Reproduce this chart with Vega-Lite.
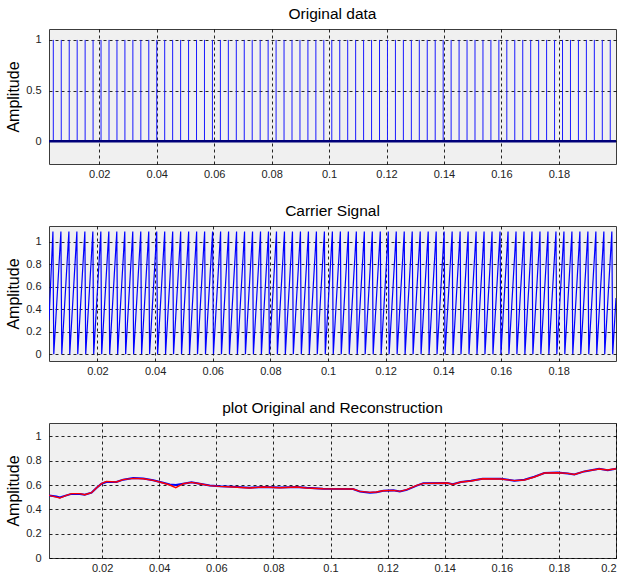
{
  "$schema": "https://vega.github.io/schema/vega-lite/v6.json",
  "padding": {"left": 5, "top": 6, "right": 0, "bottom": 0},
  "spacing": 23,
  "config": {
    "font": "Liberation Sans",
    "view": {"fill": "#f0f0f0", "stroke": "#3c3c3c", "strokeWidth": 1},
    "axis": {"grid": true, "gridColor": "#000000", "gridDash": [3, 3], "gridOpacity": 0.85, "domain": false, "ticks": false, "labelFont": "Liberation Sans", "labelFontSize": 11, "labelColor": "#222222", "titleFont": "Liberation Sans", "titleFontSize": 16, "titleFontWeight": "normal", "titleColor": "#000000", "zindex": 1},
    "axisX": {"labelPadding": 4},
    "axisY": {"labelPadding": 8, "titlePadding": 4},
    "title": {"fontSize": 15.5, "fontWeight": "normal", "font": "Liberation Sans", "color": "#000000", "offset": 7}
  },
  "datasets": {
    "stems": [
      {"t":0.004,"v":1},{"t":0.00677,"v":1},{"t":0.00954,"v":1},{"t":0.01231,"v":1},{"t":0.01508,"v":1},{"t":0.01785,"v":1},{"t":0.02062,"v":1},{"t":0.02339,"v":1},{"t":0.02616,"v":1},{"t":0.02893,"v":1},
      {"t":0.0317,"v":1},{"t":0.03447,"v":1},{"t":0.03724,"v":1},{"t":0.04001,"v":1},{"t":0.04278,"v":1},{"t":0.04555,"v":1},{"t":0.04832,"v":1},{"t":0.05109,"v":1},{"t":0.05386,"v":1},{"t":0.05663,"v":1},
      {"t":0.0594,"v":1},{"t":0.06217,"v":1},{"t":0.06494,"v":1},{"t":0.06771,"v":1},{"t":0.07048,"v":1},{"t":0.07325,"v":1},{"t":0.07602,"v":1},{"t":0.07879,"v":1},{"t":0.08156,"v":1},{"t":0.08433,"v":1},
      {"t":0.0871,"v":1},{"t":0.08987,"v":1},{"t":0.09264,"v":1},{"t":0.09541,"v":1},{"t":0.09818,"v":1},{"t":0.10095,"v":1},{"t":0.10372,"v":1},{"t":0.10649,"v":1},{"t":0.10926,"v":1},{"t":0.11203,"v":1},
      {"t":0.1148,"v":1},{"t":0.11757,"v":1},{"t":0.12034,"v":1},{"t":0.12311,"v":1},{"t":0.12588,"v":1},{"t":0.12865,"v":1},{"t":0.13142,"v":1},{"t":0.13419,"v":1},{"t":0.13696,"v":1},{"t":0.13973,"v":1},
      {"t":0.1425,"v":1},{"t":0.14527,"v":1},{"t":0.14804,"v":1},{"t":0.15081,"v":1},{"t":0.15358,"v":1},{"t":0.15635,"v":1},{"t":0.15912,"v":1},{"t":0.16189,"v":1},{"t":0.16466,"v":1},{"t":0.16743,"v":1},
      {"t":0.1702,"v":1},{"t":0.17297,"v":1},{"t":0.17574,"v":1},{"t":0.17851,"v":1},{"t":0.18128,"v":1},{"t":0.18405,"v":1},{"t":0.18682,"v":1},{"t":0.18959,"v":1},{"t":0.19236,"v":1},{"t":0.19513,"v":1},
      {"t":0.1979,"v":1}
    ],
    "carrier": [
      {"t":0.0032,"v":0.3},
      {"t":0.00456,"v":1.09},{"t":0.00486,"v":0},{"t":0.00733,"v":1.09},{"t":0.00763,"v":0},{"t":0.0101,"v":1.09},{"t":0.0104,"v":0},{"t":0.01287,"v":1.09},{"t":0.01317,"v":0},{"t":0.01564,"v":1.09},{"t":0.01594,"v":0},
      {"t":0.01841,"v":1.09},{"t":0.01871,"v":0},{"t":0.02118,"v":1.09},{"t":0.02148,"v":0},{"t":0.02395,"v":1.09},{"t":0.02425,"v":0},{"t":0.02672,"v":1.09},{"t":0.02702,"v":0},{"t":0.02949,"v":1.09},{"t":0.02979,"v":0},
      {"t":0.03226,"v":1.09},{"t":0.03256,"v":0},{"t":0.03503,"v":1.09},{"t":0.03533,"v":0},{"t":0.0378,"v":1.09},{"t":0.0381,"v":0},{"t":0.04057,"v":1.09},{"t":0.04087,"v":0},{"t":0.04334,"v":1.09},{"t":0.04364,"v":0},
      {"t":0.04611,"v":1.09},{"t":0.04641,"v":0},{"t":0.04888,"v":1.09},{"t":0.04918,"v":0},{"t":0.05165,"v":1.09},{"t":0.05195,"v":0},{"t":0.05442,"v":1.09},{"t":0.05472,"v":0},{"t":0.05719,"v":1.09},{"t":0.05749,"v":0},
      {"t":0.05996,"v":1.09},{"t":0.06026,"v":0},{"t":0.06273,"v":1.09},{"t":0.06303,"v":0},{"t":0.0655,"v":1.09},{"t":0.0658,"v":0},{"t":0.06827,"v":1.09},{"t":0.06857,"v":0},{"t":0.07104,"v":1.09},{"t":0.07134,"v":0},
      {"t":0.07381,"v":1.09},{"t":0.07411,"v":0},{"t":0.07658,"v":1.09},{"t":0.07688,"v":0},{"t":0.07935,"v":1.09},{"t":0.07965,"v":0},{"t":0.08212,"v":1.09},{"t":0.08242,"v":0},{"t":0.08489,"v":1.09},{"t":0.08519,"v":0},
      {"t":0.08766,"v":1.09},{"t":0.08796,"v":0},{"t":0.09043,"v":1.09},{"t":0.09073,"v":0},{"t":0.0932,"v":1.09},{"t":0.0935,"v":0},{"t":0.09597,"v":1.09},{"t":0.09627,"v":0},{"t":0.09874,"v":1.09},{"t":0.09904,"v":0},
      {"t":0.10151,"v":1.09},{"t":0.10181,"v":0},{"t":0.10428,"v":1.09},{"t":0.10458,"v":0},{"t":0.10705,"v":1.09},{"t":0.10735,"v":0},{"t":0.10982,"v":1.09},{"t":0.11012,"v":0},{"t":0.11259,"v":1.09},{"t":0.11289,"v":0},
      {"t":0.11536,"v":1.09},{"t":0.11566,"v":0},{"t":0.11813,"v":1.09},{"t":0.11843,"v":0},{"t":0.1209,"v":1.09},{"t":0.1212,"v":0},{"t":0.12367,"v":1.09},{"t":0.12397,"v":0},{"t":0.12644,"v":1.09},{"t":0.12674,"v":0},
      {"t":0.12921,"v":1.09},{"t":0.12951,"v":0},{"t":0.13198,"v":1.09},{"t":0.13228,"v":0},{"t":0.13475,"v":1.09},{"t":0.13505,"v":0},{"t":0.13752,"v":1.09},{"t":0.13782,"v":0},{"t":0.14029,"v":1.09},{"t":0.14059,"v":0},
      {"t":0.14306,"v":1.09},{"t":0.14336,"v":0},{"t":0.14583,"v":1.09},{"t":0.14613,"v":0},{"t":0.1486,"v":1.09},{"t":0.1489,"v":0},{"t":0.15137,"v":1.09},{"t":0.15167,"v":0},{"t":0.15414,"v":1.09},{"t":0.15444,"v":0},
      {"t":0.15691,"v":1.09},{"t":0.15721,"v":0},{"t":0.15968,"v":1.09},{"t":0.15998,"v":0},{"t":0.16245,"v":1.09},{"t":0.16275,"v":0},{"t":0.16522,"v":1.09},{"t":0.16552,"v":0},{"t":0.16799,"v":1.09},{"t":0.16829,"v":0},
      {"t":0.17076,"v":1.09},{"t":0.17106,"v":0},{"t":0.17353,"v":1.09},{"t":0.17383,"v":0},{"t":0.1763,"v":1.09},{"t":0.1766,"v":0},{"t":0.17907,"v":1.09},{"t":0.17937,"v":0},{"t":0.18184,"v":1.09},{"t":0.18214,"v":0},
      {"t":0.18461,"v":1.09},{"t":0.18491,"v":0},{"t":0.18738,"v":1.09},{"t":0.18768,"v":0},{"t":0.19015,"v":1.09},{"t":0.19045,"v":0},{"t":0.19292,"v":1.09},{"t":0.19322,"v":0},{"t":0.19569,"v":1.09},{"t":0.19599,"v":0},
      {"t":0.19846,"v":1.09},{"t":0.19876,"v":0},{"t":0.1999,"v":0.5}
    ],
    "recon": [
      {"s":"orig","t":0.0014,"v":0.515},{"s":"orig","t":0.004,"v":0.505},{"s":"orig","t":0.0052,"v":0.497},{"s":"orig","t":0.0075,"v":0.515},{"s":"orig","t":0.0093,"v":0.527},{"s":"orig","t":0.0122,"v":0.527},{"s":"orig","t":0.0139,"v":0.52},{"s":"orig","t":0.0163,"v":0.537},{"s":"orig","t":0.018,"v":0.576},{"s":"orig","t":0.0198,"v":0.611},
      {"s":"orig","t":0.0215,"v":0.625},{"s":"orig","t":0.025,"v":0.625},{"s":"orig","t":0.0274,"v":0.644},{"s":"orig","t":0.0309,"v":0.657},{"s":"orig","t":0.0344,"v":0.654},{"s":"orig","t":0.0379,"v":0.64},{"s":"orig","t":0.0414,"v":0.619},{"s":"orig","t":0.0437,"v":0.605},{"s":"orig","t":0.0458,"v":0.6},{"s":"orig","t":0.0484,"v":0.611},
      {"s":"orig","t":0.0513,"v":0.622},{"s":"orig","t":0.0542,"v":0.611},{"s":"orig","t":0.0577,"v":0.597},{"s":"orig","t":0.0612,"v":0.589},{"s":"orig","t":0.0659,"v":0.586},{"s":"orig","t":0.0717,"v":0.578},{"s":"orig","t":0.0764,"v":0.584},{"s":"orig","t":0.0823,"v":0.58},{"s":"orig","t":0.0881,"v":0.584},{"s":"orig","t":0.0916,"v":0.577},
      {"s":"orig","t":0.0974,"v":0.57},{"s":"orig","t":0.1079,"v":0.567},{"s":"orig","t":0.1103,"v":0.546},{"s":"orig","t":0.1138,"v":0.537},{"s":"orig","t":0.1161,"v":0.541},{"s":"orig","t":0.1185,"v":0.553},{"s":"orig","t":0.122,"v":0.556},{"s":"orig","t":0.1243,"v":0.546},{"s":"orig","t":0.1267,"v":0.56},{"s":"orig","t":0.1302,"v":0.595},
      {"s":"orig","t":0.1325,"v":0.614},{"s":"orig","t":0.141,"v":0.617},{"s":"orig","t":0.1428,"v":0.607},{"s":"orig","t":0.1457,"v":0.625},{"s":"orig","t":0.1492,"v":0.635},{"s":"orig","t":0.1533,"v":0.652},{"s":"orig","t":0.1597,"v":0.652},{"s":"orig","t":0.1644,"v":0.636},{"s":"orig","t":0.1679,"v":0.643},{"s":"orig","t":0.1714,"v":0.668},
      {"s":"orig","t":0.1749,"v":0.699},{"s":"orig","t":0.1796,"v":0.703},{"s":"orig","t":0.1831,"v":0.694},{"s":"orig","t":0.1854,"v":0.687},{"s":"orig","t":0.1889,"v":0.712},{"s":"orig","t":0.1941,"v":0.734},{"s":"orig","t":0.1971,"v":0.722},{"s":"orig","t":0.2,"v":0.734},
      {"s":"rec","t":0.0014,"v":0.515},{"s":"rec","t":0.004,"v":0.5},{"s":"rec","t":0.0052,"v":0.493},{"s":"rec","t":0.0075,"v":0.515},{"s":"rec","t":0.0093,"v":0.529},{"s":"rec","t":0.0122,"v":0.529},{"s":"rec","t":0.0139,"v":0.52},{"s":"rec","t":0.0163,"v":0.537},{"s":"rec","t":0.018,"v":0.576},{"s":"rec","t":0.0198,"v":0.611},
      {"s":"rec","t":0.0215,"v":0.63},{"s":"rec","t":0.025,"v":0.625},{"s":"rec","t":0.0274,"v":0.644},{"s":"rec","t":0.0309,"v":0.655},{"s":"rec","t":0.0344,"v":0.652},{"s":"rec","t":0.0379,"v":0.638},{"s":"rec","t":0.0414,"v":0.617},{"s":"rec","t":0.0437,"v":0.6},{"s":"rec","t":0.0458,"v":0.578},{"s":"rec","t":0.0484,"v":0.611},
      {"s":"rec","t":0.0513,"v":0.622},{"s":"rec","t":0.0542,"v":0.611},{"s":"rec","t":0.0577,"v":0.595},{"s":"rec","t":0.0612,"v":0.589},{"s":"rec","t":0.0659,"v":0.584},{"s":"rec","t":0.0717,"v":0.576},{"s":"rec","t":0.0764,"v":0.584},{"s":"rec","t":0.0823,"v":0.578},{"s":"rec","t":0.0881,"v":0.584},{"s":"rec","t":0.0916,"v":0.576},
      {"s":"rec","t":0.0974,"v":0.57},{"s":"rec","t":0.1079,"v":0.567},{"s":"rec","t":0.1103,"v":0.548},{"s":"rec","t":0.1138,"v":0.54},{"s":"rec","t":0.1161,"v":0.543},{"s":"rec","t":0.1185,"v":0.553},{"s":"rec","t":0.122,"v":0.556},{"s":"rec","t":0.1243,"v":0.548},{"s":"rec","t":0.1267,"v":0.562},{"s":"rec","t":0.1302,"v":0.597},
      {"s":"rec","t":0.1325,"v":0.614},{"s":"rec","t":0.141,"v":0.617},{"s":"rec","t":0.1428,"v":0.605},{"s":"rec","t":0.1457,"v":0.625},{"s":"rec","t":0.1492,"v":0.633},{"s":"rec","t":0.1533,"v":0.652},{"s":"rec","t":0.1597,"v":0.65},{"s":"rec","t":0.1644,"v":0.636},{"s":"rec","t":0.1679,"v":0.641},{"s":"rec","t":0.1714,"v":0.666},
      {"s":"rec","t":0.1749,"v":0.699},{"s":"rec","t":0.1796,"v":0.701},{"s":"rec","t":0.1831,"v":0.696},{"s":"rec","t":0.1854,"v":0.687},{"s":"rec","t":0.1889,"v":0.712},{"s":"rec","t":0.1941,"v":0.732},{"s":"rec","t":0.1971,"v":0.724},{"s":"rec","t":0.2,"v":0.734}
    ]
  },
  "vconcat": [
    {
      "title": "Original data",
      "width": 567,
      "height": 135,
      "layer": [
        {
          "data": {"name": "stems"},
          "mark": {"type": "rule", "color": "#1a1aff", "strokeWidth": 1, "clip": true},
          "encoding": {
            "x": {"field": "t", "type": "quantitative", "title": null, "scale": {"domain": [0.0025, 0.1999], "nice": false, "zero": false}, "axis": {"values": [0.02, 0.04, 0.06, 0.08, 0.1, 0.12, 0.14, 0.16, 0.18], "format": "~g"}},
            "y": {"field": "v", "type": "quantitative", "title": "Amplitude", "scale": {"domain": [-0.226, 1.108], "nice": false, "zero": false}, "axis": {"values": [0, 0.5, 1], "format": "~g"}},
            "y2": {"datum": 0}
          }
        },
        {
          "data": {"values": [{"b": 0}]},
          "mark": {"type": "rule", "color": "#00007a", "strokeWidth": 2.5},
          "encoding": {"y": {"field": "b", "type": "quantitative"}}
        }
      ]
    },
    {
      "title": "Carrier Signal",
      "width": 567,
      "height": 135,
      "data": {"name": "carrier"},
      "mark": {"type": "line", "color": "#0000ff", "strokeWidth": 1.2, "clip": true},
      "encoding": {
        "x": {"field": "t", "type": "quantitative", "title": null, "scale": {"domain": [0.0032, 0.1999], "nice": false, "zero": false}, "axis": {"values": [0.02, 0.04, 0.06, 0.08, 0.1, 0.12, 0.14, 0.16, 0.18], "format": "~g"}},
        "y": {"field": "v", "type": "quantitative", "title": "Amplitude", "scale": {"domain": [-0.06, 1.14], "nice": false, "zero": false}, "axis": {"values": [0, 0.2, 0.4, 0.6, 0.8, 1], "format": "~g"}}
      }
    },
    {
      "title": "plot Original and Reconstruction",
      "width": 567,
      "height": 135,
      "data": {"name": "recon"},
      "encoding": {
        "x": {"field": "t", "type": "quantitative", "title": null, "scale": {"domain": [0.0014, 0.2], "nice": false, "zero": false}, "axis": {"values": [0.02, 0.04, 0.06, 0.08, 0.1, 0.12, 0.14, 0.16, 0.18, 0.2], "format": "~g"}},
        "y": {"field": "v", "type": "quantitative", "title": "Amplitude", "scale": {"domain": [0, 1.11], "nice": false, "zero": false}, "axis": {"values": [0, 0.2, 0.4, 0.6, 0.8, 1], "format": "~g"}}
      },
      "layer": [
        {"transform": [{"filter": "datum.s === 'orig'"}], "mark": {"type": "line", "color": "#0000ff", "strokeWidth": 2, "clip": true}},
        {"transform": [{"filter": "datum.s === 'rec'"}], "mark": {"type": "line", "color": "#ff0000", "strokeWidth": 1.4, "clip": true}}
      ]
    }
  ]
}
